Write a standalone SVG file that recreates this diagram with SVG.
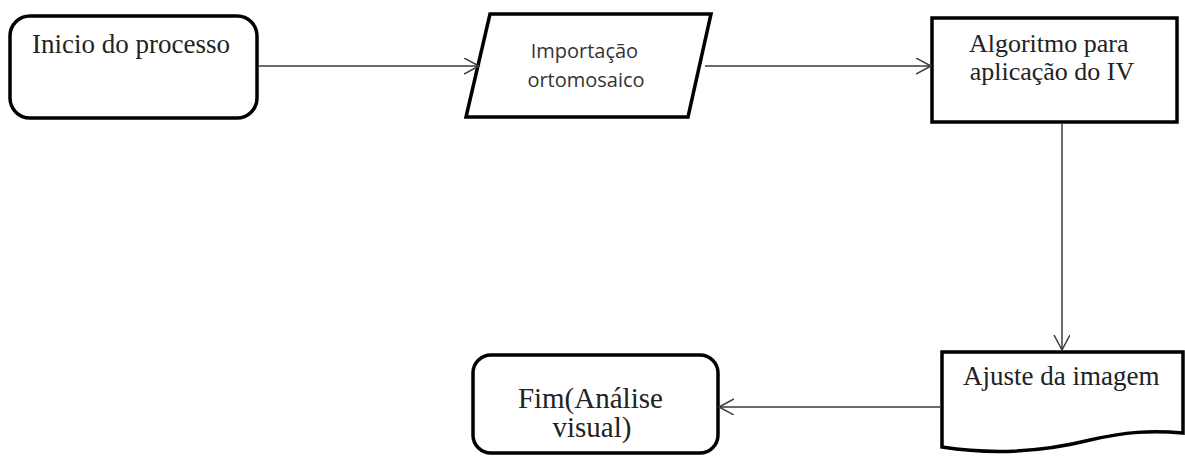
<svg xmlns="http://www.w3.org/2000/svg" width="1185" height="456" viewBox="0 0 1185 456">
  <style>
    .box { fill: #ffffff; stroke: #000000; stroke-width: 3.5; stroke-linejoin: miter; }
    .serif { font-family: "Liberation Serif", "Times New Roman", serif; fill: #222222; }
    .sans { font-family: "Open Sans", "Liberation Sans", sans-serif; fill: #333333; }
    .link { fill: none; stroke: #3a3a3a; stroke-width: 1.5; }
  </style>
  <defs>
    <marker id="arrow" markerUnits="userSpaceOnUse" markerWidth="18" markerHeight="18" refX="15" refY="8" orient="auto">
      <path d="M0,0 L15,8 L0,16" fill="none" stroke="#3a3a3a" stroke-width="1.5"/>
    </marker>
  </defs>
  <rect width="1185" height="456" fill="#ffffff"/>

  <!-- start terminator -->
  <g id="inicio">
    <rect class="box" x="10" y="16" width="247" height="102" rx="20" ry="20"/>
    <text class="serif" x="32" y="53" font-size="27">Inicio do processo</text>
  </g>

  <!-- data input -->
  <g id="importacao">
    <polygon class="box" points="490,14 711,14 688,117 466,117"/>
    <text class="sans" font-size="20" text-anchor="middle">
      <tspan x="587" y="58">Importação</tspan>
      <tspan x="586" y="87">ortomosaico</tspan>
    </text>
  </g>

  <!-- process step -->
  <g id="algoritmo">
    <rect class="box" x="932" y="18" width="245" height="104" stroke-width="4.5"/>
    <text class="serif" font-size="26" text-anchor="middle">
      <tspan x="1052" y="52">Algoritmo para</tspan>
      <tspan x="1052" y="80">aplicação do IV</tspan>
    </text>
  </g>

  <!-- document -->
  <g id="ajuste">
    <path class="box" d="M942,352 H1183 V433 C1150,430 1125,432 1090,440 C1050,450 1000,456 942,447 Z"/>
    <text class="serif" x="963" y="385" font-size="27">Ajuste da imagem</text>
  </g>

  <!-- end terminator -->
  <g id="fim">
    <rect class="box" x="473" y="355" width="245" height="98" rx="18" ry="18"/>
    <text class="serif" font-size="29" text-anchor="middle">
      <tspan x="594" y="408">Fim(Análise</tspan>
      <tspan x="592" y="437">visual)</tspan>
    </text>
  </g>

  <!-- connectors -->
  <g id="connectors">
    <line class="link" x1="258" y1="66" x2="479" y2="66" marker-end="url(#arrow)"/>
    <line class="link" x1="705" y1="66" x2="931" y2="66" marker-end="url(#arrow)"/>
    <line class="link" x1="1062" y1="124" x2="1062" y2="350" marker-end="url(#arrow)"/>
    <line class="link" x1="941" y1="407" x2="719" y2="407" marker-end="url(#arrow)"/>
  </g>
</svg>
